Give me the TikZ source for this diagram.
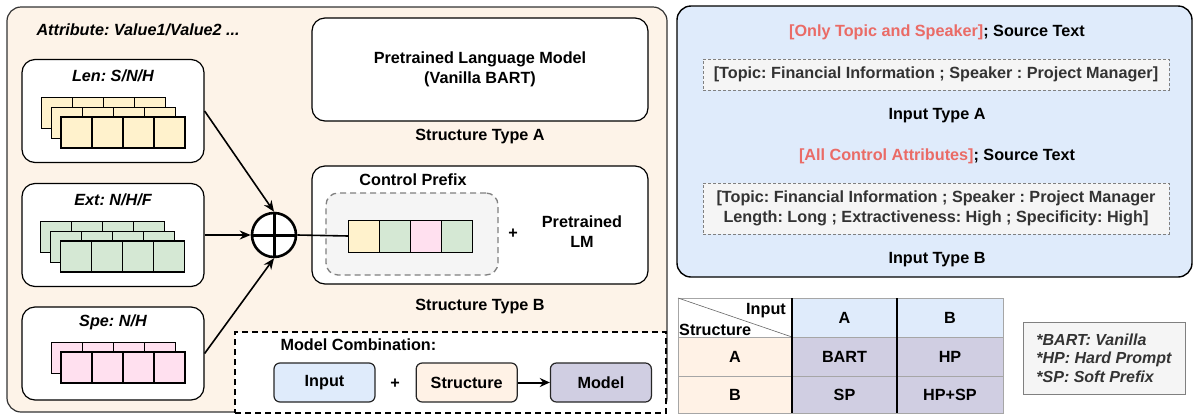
\documentclass[tikz,border=0pt]{standalone}
\usepackage{fontspec}
\setmainfont{Liberation Sans}
\usepackage{xcolor}
\usetikzlibrary{positioning,arrows.meta}
\frenchspacing

\definecolor{peachbg}{HTML}{FDF3E8}
\definecolor{peachbox}{HTML}{FFF2E6}
\definecolor{bluebg}{HTML}{DFEBFB}
\definecolor{lavender}{HTML}{D0CEE2}
\definecolor{lenyellow}{HTML}{FFF2CC}
\definecolor{extgreen}{HTML}{D5E8D4}
\definecolor{spepink}{HTML}{FFE0EF}
\definecolor{softgray}{HTML}{F5F5F5}
\definecolor{darktxt}{HTML}{333333}
\definecolor{redtxt}{HTML}{EA6B66}

\begin{document}
\begin{tikzpicture}[x=1pt, y=-1pt,
    font=\bfseries\fontsize{16.2}{20}\selectfont,
    panel/.style={draw=black!80, rounded corners=14pt, line width=1.2pt},
    attrbox/.style={draw, rounded corners=13pt, fill=white, line width=1.2pt, minimum width=182pt, minimum height=103pt},
    lmbox/.style={draw, rounded corners=13pt, fill=white, line width=1.2pt, minimum width=336pt, align=center},
    cell/.style={draw, minimum width=31pt, minimum height=31pt, inner sep=0pt, outer sep=0pt},
    title/.style={font=\bfseries\itshape\fontsize{16.2}{20}\selectfont},
    srcbox/.style={draw=gray, dash pattern=on 3pt off 2pt, fill=softgray, text=darktxt, minimum width=466pt, align=center},
    combo/.style={draw=black!85, rounded corners=6pt, line width=1.2pt, minimum width=101pt, minimum height=39pt},
    tcell/.style={draw=gray!70, inner sep=0pt, outer sep=0pt},
    arrow/.style={-{Stealth[length=11pt, width=9pt]}, line width=1.6pt}
]
\useasboundingbox (0,0) rectangle (1203,416);

% Left panel: structures
\draw[panel, fill=peachbg] (7,7) rectangle (667,412);
\node[title, anchor=west] (attr) at (33,30) {Attribute: Value1/Value2 ...};

% Attribute boxes
\node[attrbox] (len) at (113,111) {};
\node[attrbox] (ext) at (113,235) {};
\node[attrbox, minimum height=93pt] (spe) at (113,353.5) {};
\node[title, below=7pt of len.north] (lenlbl) {Len: S/N/H};
\node[title, below=7pt of ext.north] (extlbl) {Ext: N/H/F};
\node[title, below=5pt of spe.north] (spelbl) {Spe: N/H};

\foreach \r/\lw in {0/0.8pt, 1/0.8pt, 2/1.5pt}
  \foreach \i in {0,...,3} {
    \node[cell, fill=lenyellow, line width=\lw] (len-\r-\i) at ({56.5+31*\i+10*\r},{112.5+10*\r}) {};
    \node[cell, fill=extgreen, line width=\lw] (ext-\r-\i) at ({56+31*\i+10*\r},{236.5+10*\r}) {};
  }
\foreach \r/\lw in {0/0.8pt, 1/1.5pt}
  \foreach \i in {0,...,3}
    \node[cell, fill=spepink, line width=\lw] (spe-\r-\i) at ({66.5+31*\i+10*\r},{357.5+10*\r}) {};

% Combine
\node[draw, circle, fill=white, line width=2.6pt, minimum size=44pt] (plus) at (274,235) {};
\draw[line width=3pt] (plus.north) -- (plus.south);
\draw[line width=3pt] (plus.west) -- (plus.east);
\draw[arrow] (len.east) -- (plus.north);
\draw[arrow] (ext.east) -- (plus.west);
\draw[arrow] (spe.east) -- (plus.south);

% Structure type A
\node[lmbox, minimum height=103pt] (lmA) at (480,69.5) {Pretrained Language Model\\(Vanilla BART)};
\node (typeA) at (480,137) {Structure Type A};

% Structure type B
\node[lmbox, minimum height=118pt] (lmB) at (480,225) {};
\node[draw=gray, fill=softgray, dash pattern=on 6pt off 4pt, line width=1.3pt, rounded corners=12pt,
      minimum width=172pt, minimum height=82pt] (cpbox) at (412,234) {};
\node (cplbl) at (413,180) {Control Prefix};
\node[cell, fill=lenyellow, minimum height=32pt] (cp1) at (364,236) {};
\node[cell, fill=extgreen, minimum height=32pt, right=0pt of cp1] (cp2) {};
\node[cell, fill=spepink, minimum height=32pt, right=0pt of cp2] (cp3) {};
\node[cell, fill=extgreen, minimum height=32pt, right=0pt of cp3] (cp4) {};
\node (cpplus) at (513,234) {+};
\node[align=center] (plm) at (582,232) {Pretrained\\LM};
\draw[line width=1.6pt] (plus.east) -- (cp1.west);
\node (typeB) at (480,307) {Structure Type B};

% Model combination
\node[draw, fill=white, dash pattern=on 6pt off 4pt, line width=1.5pt, minimum width=431pt, minimum height=81pt] (mcbox) at (450.5,372.5) {};
\node[anchor=west] (mclbl) at (277,345) {Model Combination:};
\node[combo, fill=bluebg] (cinput) at (324.5,382.5) {Input};
\node[combo, fill=peachbox, right=40pt of cinput] (cstruct) {Structure};
\node[combo, fill=lavender, right=32pt of cstruct] (cmodel) {Model};
\node (cplus) at (395,384) {+};
\draw[-{Stealth[length=10pt, width=9pt]}, line width=2pt] (cstruct) -- (cmodel);

% Right panel: inputs
\draw[draw=black, rounded corners=14pt, line width=1.4pt, fill=bluebg] (677,6) rectangle (1192,277);
\node (srcA) at (937,32) {\textcolor{redtxt}{[Only Topic and Speaker]}; Source Text};
\node[srcbox, minimum height=31pt] (boxA) at (936,74.5) {[Topic: Financial Information ; Speaker : Project Manager]};
\node (typeInA) at (937,116) {Input Type A};
\node (srcB) at (937,156) {\textcolor{redtxt}{[All Control Attributes]}; Source Text};
\node[srcbox, minimum height=51pt] (boxB) at (936,208.5) {[Topic: Financial Information ; Speaker : Project Manager\\Length: Long ; Extractiveness: High ; Specificity: High]};
\node (typeInB) at (937,260) {Input Type B};

% Table
\node[tcell, fill=white, minimum width=114pt, minimum height=39pt] (tc-0-0) at (735,317.5) {};
\node[tcell, fill=bluebg, minimum width=105pt, minimum height=39pt] (tc-0-1) at (844.5,317.5) {A};
\node[tcell, fill=bluebg, minimum width=106pt, minimum height=39pt] (tc-0-2) at (950,317.5) {B};
\node[tcell, fill=peachbox, minimum width=114pt, minimum height=39pt] (tc-1-0) at (735,356.5) {A};
\node[tcell, fill=lavender, minimum width=105pt, minimum height=39pt] (tc-1-1) at (844.5,356.5) {BART};
\node[tcell, fill=lavender, minimum width=106pt, minimum height=39pt] (tc-1-2) at (950,356.5) {HP};
\node[tcell, fill=peachbox, minimum width=114pt, minimum height=37pt] (tc-2-0) at (735,394.5) {B};
\node[tcell, fill=lavender, minimum width=105pt, minimum height=37pt] (tc-2-1) at (844.5,394.5) {SP};
\node[tcell, fill=lavender, minimum width=106pt, minimum height=37pt] (tc-2-2) at (950,394.5) {HP+SP};
\draw[gray!80!black, line width=0.6pt] (tc-0-0.north west) -- (tc-0-0.south east);
\node[anchor=north east, inner xsep=6pt, inner ysep=5pt] (tinput) at (tc-0-0.north east) {Input};
\node[anchor=south west, inner sep=1pt] (tstruct) at (tc-0-0.south west) {Structure};
\draw[line width=1.6pt] (tc-0-0.north east) -- (tc-2-0.south east);
\draw[line width=1.6pt] (tc-0-1.north east) -- (tc-2-1.south east);

% Legend
\node[draw=gray, fill=softgray, line width=0.8pt, minimum width=162pt, minimum height=72pt, align=left, text=darktxt,
      font=\bfseries\itshape\fontsize{16}{18.5}\selectfont] (legend) at (1104,358) {*BART: Vanilla\\*HP: Hard Prompt\\*SP: Soft Prefix};
\end{tikzpicture}
\end{document}
